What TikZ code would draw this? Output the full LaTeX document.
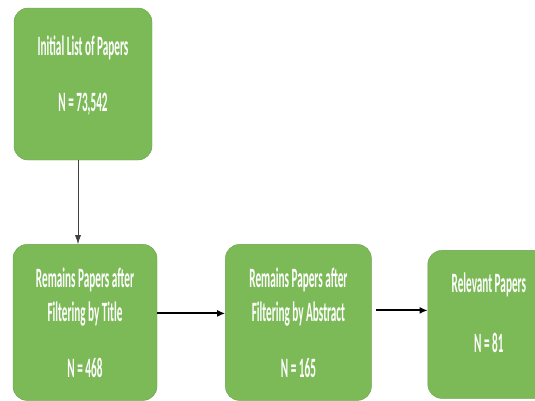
\documentclass[tikz,border=0pt]{standalone}
\usepackage{fontspec}
\usepackage{tikz}
\usetikzlibrary{arrows.meta,positioning}
\newfontfamily\boxfont[FakeStretch=0.4]{Carlito}
\definecolor{stagefill}{RGB}{124,186,88}
\definecolor{stageedge}{RGB}{104,160,72}
\tikzset{%
	stage/.style    = {draw=stageedge, fill=stagefill, rounded corners=14pt, text=white, align=center, inner sep=0pt, font=\boxfont\bfseries\fontsize{28}{34}\selectfont},
	down/.style     = {draw=black!75, line width=0.7pt, -{Latex[length=9pt,width=6pt]}},
	across/.style   = {line width=1.9pt, -{Latex[length=8pt,width=7pt]}},
}

\begin{document}
\begin{tikzpicture}[node distance = 68pt]
	\clip (0,0) rectangle (535pt,-400pt);
	\node[stage, minimum width=138pt, minimum height=152pt] (init) at (83pt,-84pt) {Initial List of Papers\\[22pt]N = 73,542\\[-14pt]\mbox{}};
	\node[stage, minimum width=144pt, minimum height=156pt, below=84pt of init, xshift=2pt] (title) {Remains Papers after\\Filtering by Title\\[22pt]N = 468};
	\node[stage, minimum width=146pt, minimum height=156pt, right=of title] (abs) {Remains Papers after\\Filtering by Abstract\\[22pt]N = 165};
	\node[stage, minimum width=122pt, minimum height=148pt, right=56pt of abs, yshift=-2pt] (rel) {Relevant Papers\\[26pt]N = 81\\[-10pt]\mbox{}};
	
	\draw[down] ([xshift=-5pt]init.south) -- ([xshift=-5pt]init.south |- title.north);
	\draw[across] ([yshift=9pt]title.east) -- ([yshift=9pt]abs.west);
	\draw[across, shorten <=4pt] ([yshift=12pt]abs.east) -- ([yshift=12pt]abs.east -| rel.west);
\end{tikzpicture}
\end{document}
